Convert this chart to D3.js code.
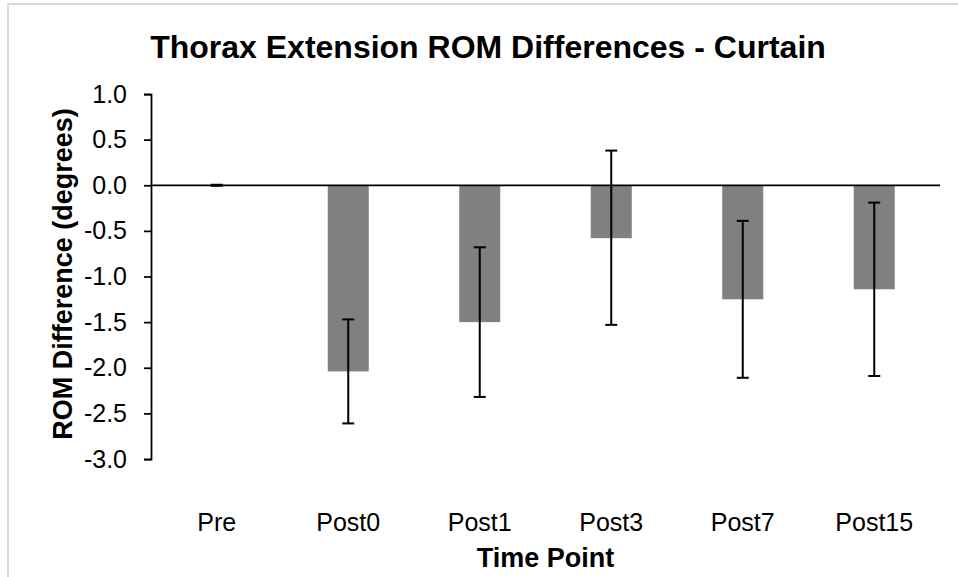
<!DOCTYPE html>
<html>
<head>
<meta charset="utf-8">
<script src="https://cdn.jsdelivr.net/npm/d3@7"></script>
<style>
  body { margin: 0; background: #fff; }
  text { font-family: "Liberation Sans", Arial, sans-serif; fill: #000; }
</style>
</head>
<body>
<svg id="chart" width="958" height="577"></svg>
<script>
var timePoints = ["Pre", "Post0", "Post1", "Post3", "Post7", "Post15"];
var meanDiff = [0, -2.04, -1.50, -0.58, -1.25, -1.14];
var errLow = [0, -2.61, -2.32, -1.53, -2.11, -2.09];
var errHigh = [0, -1.47, -0.68, 0.38, -0.39, -0.19];
var yTicks = [1.0, 0.5, 0.0, -0.5, -1.0, -1.5, -2.0, -2.5, -3.0];

var data = timePoints.map((t, i) => ({ time: t, value: meanDiff[i], lo: errLow[i], hi: errHigh[i] }));

var svg = d3.select("#chart");

// chart area border (cropped on right and bottom)
svg.append("rect")
    .attr("x", 8)
    .attr("y", 4)
    .attr("width", 1000)
    .attr("height", 700)
    .attr("fill", "none")
    .attr("stroke", "#d9d9d9")
    .attr("stroke-width", 2);

var plot = { left: 151, right: 940, top: 94, bottom: 459 };

var xScale = d3.scaleBand()
               .domain(timePoints)
               .range([plot.left, plot.right])
               .paddingInner(0.688)
               .paddingOuter(0.344);

var yScale = d3.scaleLinear()
               .domain([-3, 1])
               .range([plot.bottom, plot.top]);

// bars
svg.selectAll(".bar")
   .data(data)
   .enter()
   .append("rect")
     .classed("bar", true)
     .attr("x", d => xScale(d.time))
     .attr("width", xScale.bandwidth())
     .attr("y", d => yScale(Math.max(0, d.value)))
     .attr("height", d => Math.abs(yScale(d.value) - yScale(0)))
     .attr("fill", "#808080");

// y axis
var yAxis = d3.axisLeft(yScale)
              .tickValues(yTicks)
              .tickFormat(d => d3.format(".1f")(d).replace("\u2212", "-"))
              .tickSizeInner(7)
              .tickSizeOuter(7)
              .tickPadding(17);

var yG = svg.append("g")
    .attr("transform", "translate(" + plot.left + ",0)")
    .call(yAxis);
yG.select(".domain").attr("stroke", "#000").attr("stroke-width", 1.75);
yG.selectAll(".tick line").attr("stroke", "#000").attr("stroke-width", 1.75);
yG.selectAll(".tick text")
    .style("font-size", "25px")
    .style("font-family", "Liberation Sans, Arial, sans-serif")
    .attr("fill", "#000");

// zero line (category axis)
svg.append("line")
    .attr("x1", plot.left)
    .attr("x2", plot.right)
    .attr("y1", yScale(0))
    .attr("y2", yScale(0))
    .attr("stroke", "#000")
    .attr("stroke-width", 1.75);

// category labels at the bottom
svg.selectAll(".cat-label")
   .data(timePoints)
   .enter()
   .append("text")
     .classed("cat-label", true)
     .attr("x", d => xScale(d) + xScale.bandwidth() / 2)
     .attr("y", 531)
     .style("text-anchor", "middle")
     .style("font-size", "25px")
     .text(d => d);

// error bars
var capW = 12;
var err = svg.selectAll(".err")
   .data(data)
   .enter()
   .append("g")
     .classed("err", true)
     .attr("stroke", "#000")
     .attr("stroke-width", 2);

err.append("line")
    .attr("x1", d => xScale(d.time) + xScale.bandwidth() / 2)
    .attr("x2", d => xScale(d.time) + xScale.bandwidth() / 2)
    .attr("y1", d => yScale(d.hi))
    .attr("y2", d => yScale(d.lo));

err.append("line")
    .attr("x1", d => xScale(d.time) + xScale.bandwidth() / 2 - capW / 2)
    .attr("x2", d => xScale(d.time) + xScale.bandwidth() / 2 + capW / 2)
    .attr("y1", d => yScale(d.hi))
    .attr("y2", d => yScale(d.hi));

err.append("line")
    .attr("x1", d => xScale(d.time) + xScale.bandwidth() / 2 - capW / 2)
    .attr("x2", d => xScale(d.time) + xScale.bandwidth() / 2 + capW / 2)
    .attr("y1", d => yScale(d.lo))
    .attr("y2", d => yScale(d.lo))
    .attr("stroke-width", d => d.lo === d.hi ? 3 : 2);

// title
svg.append("text")
    .attr("x", 488)
    .attr("y", 58)
    .style("text-anchor", "middle")
    .style("font-size", "32px")
    .style("font-weight", "bold")
    .text("Thorax Extension ROM Differences - Curtain");

// axis titles
svg.append("text")
    .attr("x", (plot.left + plot.right) / 2)
    .attr("y", 567)
    .style("text-anchor", "middle")
    .style("font-size", "27px")
    .style("font-weight", "bold")
    .text("Time Point");

svg.append("text")
    .attr("transform", "rotate(-90)")
    .attr("x", -274)
    .attr("y", 72)
    .style("text-anchor", "middle")
    .style("font-size", "27px")
    .style("font-weight", "bold")
    .text("ROM Difference (degrees)");
</script>
</body>
</html>
